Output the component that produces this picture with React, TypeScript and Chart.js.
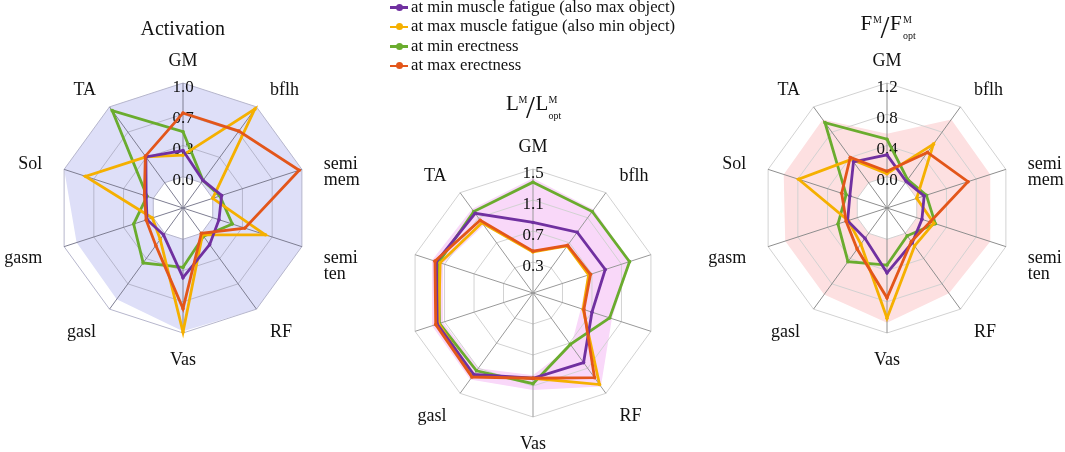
import React, { useEffect, useRef } from 'react';
import { Chart, registerables } from 'chart.js';

Chart.register(...registerables);

const FONT = '"Liberation Serif", "Times New Roman", serif';

// ---------- data ----------
const MUSCLES: (string | string[])[] = ['GM', 'bflh', ['semi', 'mem'], ['semi', 'ten'], 'RF', 'Vas', 'gasl', 'gasm', 'Sol', 'TA'];

const SERIES_NAMES = [
  'at min muscle fatigue (also max object)',
  'at max muscle fatigue (also min object)',
  'at min erectness',
  'at max erectness',
];
const SERIES_COLORS = ['#7030a0', '#f5b000', '#6aac2e', '#e3561a'];
const SERIES_ORDER = [2, 3, 4, 1];

// Activation
const ACT_TICKS = [-1 / 3, 0, 1 / 3, 2 / 3, 1];
const ACT_TICK_LABELS = ['', '0.0', '0.3', '0.7', '1.0'];
const ACT_MIN_FATIGUE = [0.28, 0.03, 0.10, 0.07, 0.15, 0.41, 0.02, 0.07, 0.08, 0.34];
const ACT_MAX_FATIGUE = [0.23, 0.97, 0.00, 0.59, 0.02, 0.99, 0.08, 0.01, 0.76, 0.34];
const ACT_MIN_ERECT = [0.48, 0.03, 0.08, 0.22, 0.04, 0.30, 0.39, 0.22, 0.07, 0.95];
const ACT_MAX_ERECT = [0.68, 0.68, 0.97, 0.36, 0.00, 0.74, 0.16, 0.08, 0.10, 0.35];
const ACT_RANGE_MAX = [1.0, 1.0, 1.0, 1.0, 1.0, 0.98, 0.87, 0.86, 1.0, 1.0];
const ACT_RANGE_MIN = [0, 0, 0, 0, 0, 0, 0, 0, 0, 0];

// Normalised fibre length
const LEN_TICKS = [-0.1, 0.3, 0.7, 1.1, 1.5];
const LEN_TICK_LABELS = ['', '0.3', '0.7', '1.1', '1.5'];
const LEN_MIN_FATIGUE = [0.81, 0.87, 0.88, 0.70, 1.01, 1.00, 1.20, 1.20, 1.21, 1.17];
const LEN_MAX_FATIGUE = [0.43, 0.65, 0.655, 0.58, 1.36, 1.00, 1.22, 1.18, 1.16, 1.02];
const LEN_MIN_ERECT = [1.33, 1.20, 1.21, 0.94, 0.72, 1.07, 1.14, 1.17, 1.18, 1.20];
const LEN_MAX_ERECT = [0.44, 0.66, 0.68, 0.59, 1.25, 1.00, 1.24, 1.22, 1.23, 1.06];
const LEN_RANGE_MAX = [1.38, 1.23, 1.22, 0.97, 1.39, 1.15, 1.28, 1.27, 1.27, 1.24];
const LEN_RANGE_MIN = [0.42, 0.64, 0.64, 0.55, 0.74, 0.96, 1.10, 1.12, 1.12, 0.98];

// Normalised fibre force
const FOR_TICKS = [-0.4, 0.0, 0.4, 0.8, 1.2];
const FOR_TICK_LABELS = ['', '0.0', '0.4', '0.8', '1.2'];
const FOR_MIN_FATIGUE = [0.28, 0.02, 0.10, 0.07, 0.15, 0.43, 0.08, 0.13, 0.10, 0.33];
const FOR_MAX_FATIGUE = [0.04, 0.61, 0.00, 0.23, 0.20, 1.01, 0.17, 0.12, 0.79, 0.37];
const FOR_MIN_ERECT = [0.48, 0.05, 0.13, 0.25, 0.04, 0.33, 0.45, 0.26, 0.15, 0.95];
const FOR_MAX_ERECT = [0.07, 0.48, 0.69, 0.18, 0.13, 0.75, 0.25, 0.15, 0.21, 0.40];
const FOR_RANGE_MAX = [0.55, 1.0, 0.99, 0.99, 0.95, 1.07, 0.97, 0.97, 0.99, 1.0];
const FOR_RANGE_MIN = [0, 0, 0, 0, 0, 0, 0, 0, 0, 0];

// ---------- layout / style ----------
type PanelCfg = {
  ticks: number[];
  tickLabels: string[];
  series: number[][];
  rangeMax: number[];
  rangeMin: number[];
  bandColor: string;
  gridColor: string;
  spokeColor: string;
  padding: { left: number; top: number; right: number; bottom: number };
  showLabel: boolean[];
};

const ALL = MUSCLES.map(() => true);

const PANELS: PanelCfg[] = [
  {
    ticks: ACT_TICKS,
    tickLabels: ACT_TICK_LABELS,
    series: [ACT_MIN_FATIGUE, ACT_MAX_FATIGUE, ACT_MIN_ERECT, ACT_MAX_ERECT],
    rangeMax: ACT_RANGE_MAX,
    rangeMin: ACT_RANGE_MIN,
    bandColor: '#dedff8',
    gridColor: '#b6b6cc',
    spokeColor: '#7e7e92',
    padding: { left: 50, top: 75, right: 748, bottom: 110 },
    showLabel: ALL,
  },
  {
    ticks: LEN_TICKS,
    tickLabels: LEN_TICK_LABELS,
    series: [LEN_MIN_FATIGUE, LEN_MAX_FATIGUE, LEN_MIN_ERECT, LEN_MAX_ERECT],
    rangeMax: LEN_RANGE_MAX,
    rangeMin: LEN_RANGE_MIN,
    bandColor: '#f9d8f9',
    gridColor: '#d2d2d2',
    spokeColor: '#999999',
    padding: { left: 401, top: 161, right: 399, bottom: 26 },
    showLabel: [true, true, false, false, true, true, true, false, false, true],
  },
  {
    ticks: FOR_TICKS,
    tickLabels: FOR_TICK_LABELS,
    series: [FOR_MIN_FATIGUE, FOR_MAX_FATIGUE, FOR_MIN_ERECT, FOR_MAX_ERECT],
    rangeMax: FOR_RANGE_MAX,
    rangeMin: FOR_RANGE_MIN,
    bandColor: '#fde0e1',
    gridColor: '#d2d2d2',
    spokeColor: '#8e8e8e',
    padding: { left: 754, top: 75, right: 44, bottom: 110 },
    showLabel: ALL,
  },
];

const W = 1065;
const H = 452;

// point labels (muscle names) placed just outside the outer ring
const pointLabelPlugin = {
  id: 'musclePointLabels',
  afterDraw(chart: any, _args: any, opts: any) {
    const scale = chart.scales.r;
    const ctx = chart.ctx as CanvasRenderingContext2D;
    const labels = chart.data.labels as (string | string[])[];
    const n = labels.length;
    ctx.save();
    ctx.font = `18px ${FONT}`;
    ctx.fillStyle = '#111111';
    ctx.textBaseline = 'middle';
    labels.forEach((lab, i) => {
      if (opts.show && !opts.show[i]) return;
      const p = scale.getPointPosition(i, scale.drawingArea + 23);
      const deg = (i * 360) / n;
      let align: CanvasTextAlign = 'center';
      if (deg > 1 && deg < 179) align = 'left';
      else if (deg > 181 && deg < 359) align = 'right';
      const lower = deg > 90 && deg < 270;
      ctx.textAlign = align;
      const lines = Array.isArray(lab) ? lab : [lab];
      const y0 = p.y + (i === 0 ? 1 : 2.5) + (lower ? 2 : 0);
      lines.forEach((ln, k) => ctx.fillText(ln, p.x, y0 + k * 16));
    });
    ctx.restore();
  },
};

// shaded range band (annulus between the range-max and range-min datasets), drawn below the grid
const bandPlugin = {
  id: 'rangeBand',
  beforeDraw(chart: any, _args: any, opts: any) {
    const scale = chart.scales.r;
    const up = chart.data.datasets[opts.upper].data as number[];
    const lo = chart.data.datasets[opts.lower].data as number[];
    const ctx = chart.ctx as CanvasRenderingContext2D;
    const pos = (i: number, v: number) => scale.getPointPosition(i, scale.getDistanceFromCenterForValue(v));
    ctx.save();
    ctx.beginPath();
    for (let i = 0; i < up.length; i++) {
      const p = pos(i, up[i]);
      if (i === 0) ctx.moveTo(p.x, p.y);
      else ctx.lineTo(p.x, p.y);
    }
    ctx.closePath();
    // inner boundary traced in the opposite direction -> hole with non-zero rule
    for (let k = 0; k < lo.length; k++) {
      const i = (lo.length - k) % lo.length;
      const p = pos(i, lo[i]);
      if (k === 0) ctx.moveTo(p.x, p.y);
      else ctx.lineTo(p.x, p.y);
    }
    ctx.closePath();
    ctx.fillStyle = opts.color;
    ctx.fill('nonzero');
    ctx.restore();
  },
};

function RadarPanel({ cfg }: { cfg: PanelCfg }) {
  const ref = useRef<HTMLCanvasElement>(null);
  useEffect(() => {
    if (!ref.current) return;
    const lineSets = cfg.series.map((data, k) => ({
      label: SERIES_NAMES[k],
      data,
      borderColor: SERIES_COLORS[k],
      backgroundColor: SERIES_COLORS[k],
      pointBackgroundColor: SERIES_COLORS[k],
      pointBorderWidth: 0,
      pointRadius: 1.8,
      borderWidth: 2.8,
      fill: false,
      order: SERIES_ORDER[k],
    }));
    const nLines = lineSets.length;
    const hidden = {
      borderColor: 'rgba(0,0,0,0)',
      backgroundColor: 'rgba(0,0,0,0)',
      borderWidth: 0,
      pointRadius: 0,
      fill: false,
    };
    const chart = new Chart(ref.current, {
      type: 'radar',
      data: {
        labels: MUSCLES,
        datasets: [
          ...lineSets,
          { label: 'range max', data: cfg.rangeMax, order: 10, ...hidden },
          { label: 'range min', data: cfg.rangeMin, order: 11, ...hidden },
        ] as any,
      },
      options: {
        responsive: false,
        animation: false,
        layout: { padding: cfg.padding },
        elements: { line: { tension: 0 } },
        plugins: {
          legend: { display: false },
          tooltip: { enabled: false },
          title: { display: false },
          musclePointLabels: { show: cfg.showLabel },
          rangeBand: { upper: nLines, lower: nLines + 1, color: cfg.bandColor },
        } as any,
        scales: {
          r: {
            min: cfg.ticks[0],
            max: cfg.ticks[cfg.ticks.length - 1],
            afterBuildTicks: (scale: any) => {
              scale.ticks = cfg.ticks.map((v) => ({ value: v }));
            },
            ticks: {
              display: true,
              showLabelBackdrop: false,
              backdropPadding: 0,
              color: '#111111',
              font: { family: FONT, size: 17, lineHeight: 0.24 },
              callback: (_v: any, idx: number) => (cfg.tickLabels[idx] ? ['', cfg.tickLabels[idx]] : ''),
            },
            grid: { color: cfg.gridColor, lineWidth: 1 },
            angleLines: { color: cfg.spokeColor, lineWidth: 1 },
            pointLabels: { display: false },
          } as any,
        },
      },
      plugins: [bandPlugin, pointLabelPlugin],
    });
    return () => chart.destroy();
  }, [cfg]);
  return (
    <canvas
      ref={ref}
      width={W}
      height={H}
      style={{ position: 'absolute', left: 0, top: 0, width: W, height: H }}
    />
  );
}

function Txt({ x, base, size, children, align = 'left' }: { x: number; base: number; size: number; children: any; align?: 'left' | 'center' }) {
  const style: React.CSSProperties = {
    position: 'absolute',
    top: base - 0.8375 * size,
    fontFamily: FONT,
    fontSize: size,
    lineHeight: `${size}px`,
    whiteSpace: 'nowrap',
    color: '#111111',
  };
  if (align === 'center') {
    style.left = x - 150;
    style.width = 300;
    style.textAlign = 'center';
  } else {
    style.left = x;
  }
  return <div style={style}>{children}</div>;
}

function RatioTitle({ x, base, letter }: { x: number; base: number; letter: string }) {
  return (
    <>
      <Txt x={x} base={base} size={21}>{letter}</Txt>
      <Txt x={x + 12.5} base={base - 7.5} size={10}>M</Txt>
      <Txt x={x + 20} base={base + 6.5} size={32}>/</Txt>
      <Txt x={x + 29.5} base={base} size={21}>{letter}</Txt>
      <Txt x={x + 42.5} base={base - 7.5} size={10}>M</Txt>
      <Txt x={x + 42.5} base={base + 8.5} size={10}>opt</Txt>
    </>
  );
}

function Legend() {
  const rowBase = [12.7, 32.2, 51.8, 71.2];
  return (
    <>
      {SERIES_NAMES.map((name, k) => (
        <React.Fragment key={name}>
          <div style={{ position: 'absolute', left: 390, top: rowBase[k] - 5.4 - 1.25, width: 18, height: 2.5, background: SERIES_COLORS[k] }} />
          <div style={{ position: 'absolute', left: 399 - 3.5, top: rowBase[k] - 5.4 - 3.5, width: 7, height: 7, borderRadius: '50%', background: SERIES_COLORS[k] }} />
          <Txt x={411} base={rowBase[k]} size={16.7}>{name}</Txt>
        </React.Fragment>
      ))}
    </>
  );
}

export default function App() {
  return (
    <div style={{ position: 'fixed', left: 0, top: 0, width: W, height: H, overflow: 'hidden', background: '#ffffff' }}>
      {PANELS.map((cfg, i) => (
        <RadarPanel key={i} cfg={cfg} />
      ))}
      <Txt x={182.7} base={34.5} size={20} align="center">Activation</Txt>
      <RatioTitle x={506} base={111} letter="L" />
      <RatioTitle x={860.5} base={31} letter="F" />
      <Legend />
    </div>
  );
}
